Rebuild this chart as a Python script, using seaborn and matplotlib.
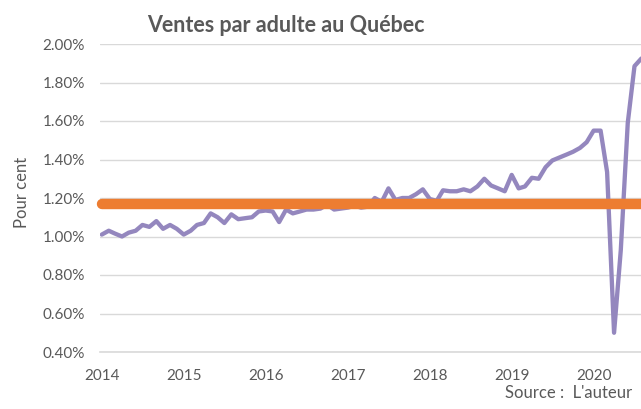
import pandas as pd
import seaborn as sns
import matplotlib.pyplot as plt
import matplotlib.dates as mdates
from matplotlib.ticker import MultipleLocator, FuncFormatter

# ventes par adulte (%), mensuel, janvier 2014 -> aout 2020
ventes = [
    # 2014
    1.01, 1.03, 1.015, 1.00, 1.02, 1.03, 1.06, 1.05, 1.08, 1.04, 1.06, 1.04,
    # 2015
    1.01, 1.03, 1.06, 1.07, 1.12, 1.10, 1.07, 1.115, 1.09, 1.095, 1.10, 1.13,
    # 2016
    1.135, 1.13, 1.075, 1.14, 1.12, 1.13, 1.14, 1.14, 1.145, 1.165, 1.14, 1.145,
    # 2017
    1.15, 1.16, 1.15, 1.155, 1.20, 1.18, 1.25, 1.19, 1.20, 1.20, 1.22, 1.245,
    # 2018
    1.195, 1.185, 1.24, 1.235, 1.235, 1.245, 1.235, 1.26, 1.30, 1.265, 1.25, 1.235,
    # 2019
    1.32, 1.25, 1.26, 1.305, 1.30, 1.36, 1.395, 1.41, 1.425, 1.44, 1.46, 1.49,
    # 2020
    1.55, 1.55, 1.335, 0.50, 0.93, 1.59, 1.885, 1.925,
]
moyenne = 1.17
debut = "2014-01-01"

mois = pd.date_range(debut, periods=len(ventes), freq="MS")
df = pd.DataFrame({"mois": mois, "ventes": ventes, "moyenne": moyenne})

sns.set_style("white")
plt.rcParams["font.family"] = ["Lato", "DejaVu Sans"]

gris = "#595959"
grille = "#D9D9D9"
violet = "#9487BE"
orange = "#ED7D31"

fig = plt.figure(figsize=(6.41, 4.09), dpi=100)
ax = fig.add_axes([100 / 641, 1 - 352 / 409, 1 - 100 / 641, 308 / 409])

sns.lineplot(data=df, x="mois", y="ventes", color=violet, lw=3.1,
             solid_joinstyle="round", ax=ax)
sns.lineplot(data=df, x="mois", y="moyenne", color=orange, lw=7.5,
             solid_capstyle="round", clip_on=False, ax=ax)

ax.set_ylim(0.4, 2.0)
ax.set_xlim(pd.Timestamp("2013-12-24"), pd.Timestamp("2020-07-30"))
ax.yaxis.set_major_locator(MultipleLocator(0.2))
ax.yaxis.set_major_formatter(FuncFormatter(lambda v, p: f"{v:.2f}%"))
ax.xaxis.set_major_locator(mdates.YearLocator())
ax.xaxis.set_major_formatter(mdates.DateFormatter("%Y"))
ax.xaxis.set_minor_locator(mdates.MonthLocator())

ax.set_axisbelow(True)
ax.yaxis.grid(True, color=grille, lw=1)
ax.xaxis.grid(False)
for s in ["left", "right", "top"]:
    ax.spines[s].set_visible(False)
ax.spines["bottom"].set_color(grille)
ax.spines["bottom"].set_linewidth(1.2)

ax.tick_params(axis="y", length=0, pad=11, labelsize=11, labelcolor=gris)
ax.tick_params(axis="x", which="both", length=2.5, color="#C8C8C8", width=0.8)
ax.tick_params(axis="x", which="major", pad=9.5, labelsize=11, labelcolor=gris)
ax.set_xlabel("")
ax.set_ylabel("")

fig.text(22 / 641, 1 - 192 / 409, "Pour cent", rotation=90, ha="center",
         va="center", fontsize=12, color=gris)
fig.text(286 / 641, 1 - 25 / 409, "Ventes par adulte au Québec", ha="center",
         va="center", fontsize=15.5, fontweight="bold", color=gris)
fig.text(505 / 641, 1 - 393 / 409, "Source :  L'auteur", ha="left",
         va="center", fontsize=12, color=gris)

fig.savefig("out.png", dpi=100)
